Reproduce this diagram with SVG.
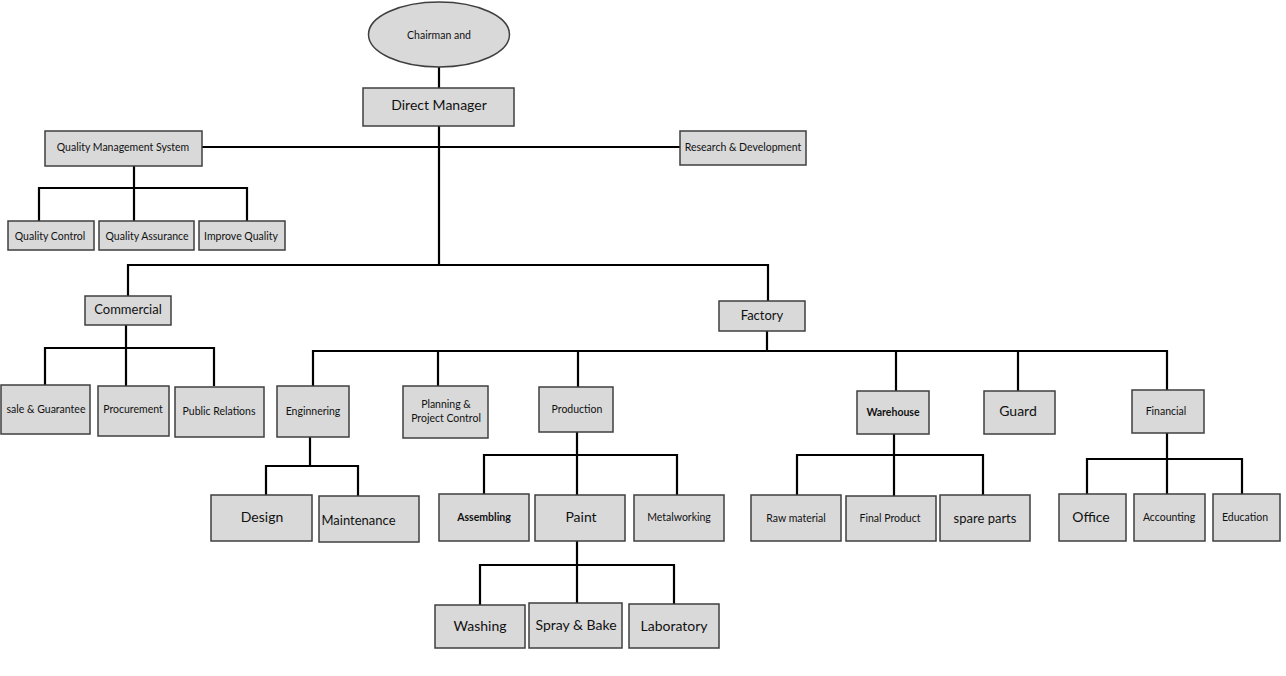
<svg xmlns="http://www.w3.org/2000/svg" width="1286" height="676" viewBox="0 0 1286 676">
<style>
.b{fill:#d9d9d9;stroke:#3f3f3f;stroke-width:1.5}
.c{fill:none;stroke:#000;stroke-width:2.2}
text{font-family:Lato,"Open Sans","Liberation Sans",sans-serif;fill:#111;text-anchor:middle}
.s{font-size:10.5px}
.m{font-size:13px}
.l{font-size:14px}
.bd{font-weight:bold}
</style>
<rect width="1286" height="676" fill="#fff"/>
<g id="connectors">
<path class="c" d="M439 67V88M439 126V265M202 147H680M134 166V188M39 221V188H247V221M134 188V221"/>
<path class="c" d="M128 296V265H768V301M126 325V348M45 385V348H214V386M126 348V386"/>
<path class="c" d="M767 331V351M313 386V351H1167V390M438 351V386M578 351V387M896 351V391M1018 351V391"/>
<path class="c" d="M310 437V466M266 495V466H358V496"/>
<path class="c" d="M577 432V455M484 494V455H677V495M577 455V495"/>
<path class="c" d="M577 541V565M480 605V565H674V604M577 565V603"/>
<path class="c" d="M894 434V455M797 495V455H983V496M894 455V496"/>
<path class="c" d="M1167 433V459M1087 494V459H1242V494M1167 459V494"/>
</g>
<g id="chairman"><ellipse class="b" cx="439" cy="34.5" rx="70.5" ry="32.5"/><text class="s" x="439" y="38.5">Chairman and</text></g>
<g id="direct-manager"><rect class="b" x="363" y="88" width="151" height="38"/><text class="l" x="439" y="110">Direct Manager</text></g>
<g id="qms"><rect class="b" x="45" y="131" width="157" height="35"/><text class="s" x="123" y="151">Quality Management System</text></g>
<g id="rd"><rect class="b" x="680" y="131" width="126" height="34"/><text class="s" x="743" y="150.5">Research &amp; Development</text></g>
<g id="quality-control"><rect class="b" x="8" y="221" width="86" height="29"/><text class="s" x="50" y="239.5">Quality Control</text></g>
<g id="quality-assurance"><rect class="b" x="99" y="221" width="95" height="29"/><text class="s" x="147" y="239.5">Quality Assurance</text></g>
<g id="improve-quality"><rect class="b" x="199" y="221" width="86" height="29"/><text class="s" x="241" y="239.5">Improve Quality</text></g>
<g id="commercial"><rect class="b" x="85" y="296" width="86" height="29"/><text class="m" x="128" y="314">Commercial</text></g>
<g id="sale-guarantee"><rect class="b" x="1" y="385" width="89" height="49"/><text class="s" x="46" y="412.5">sale &amp; Guarantee</text></g>
<g id="procurement"><rect class="b" x="98" y="386" width="71" height="50"/><text class="s" x="133" y="413">Procurement</text></g>
<g id="public-relations"><rect class="b" x="175" y="387" width="89" height="50"/><text class="s" x="219" y="414.5">Public Relations</text></g>
<g id="factory"><rect class="b" x="719" y="301" width="86" height="30"/><text class="m" x="762" y="320">Factory</text></g>
<g id="engineering"><rect class="b" x="277" y="386" width="72" height="51"/><text class="s" x="313" y="414.5">Enginnering</text></g>
<g id="design"><rect class="b" x="211" y="495" width="101" height="46"/><text class="l" x="262" y="522">Design</text></g>
<g id="maintenance"><rect class="b" x="319" y="496" width="100" height="46"/><text class="m" x="358.5" y="524.5">Maintenance</text></g>
<g id="planning"><rect class="b" x="403" y="386" width="85" height="52"/><text class="s" x="446" y="407.5">Planning &amp;</text><text class="s" x="446" y="421.5">Project Control</text></g>
<g id="production"><rect class="b" x="539" y="387" width="74" height="45"/><text class="s" x="577" y="412.5">Production</text></g>
<g id="assembling"><rect class="b" x="439" y="494" width="90" height="47"/><text class="s bd" x="484" y="520.5">Assembling</text></g>
<g id="paint"><rect class="b" x="535" y="495" width="90" height="46"/><text class="l" x="581" y="522">Paint</text></g>
<g id="metalworking"><rect class="b" x="634" y="495" width="90" height="46"/><text class="s" x="679" y="520.5">Metalworking</text></g>
<g id="washing"><rect class="b" x="435" y="605" width="90" height="43"/><text class="l" x="480" y="631">Washing</text></g>
<g id="spray-bake"><rect class="b" x="529" y="603" width="93" height="45"/><text class="l" x="576" y="630">Spray &amp; Bake</text></g>
<g id="laboratory"><rect class="b" x="629" y="604" width="90" height="44"/><text class="l" x="674" y="631">Laboratory</text></g>
<g id="warehouse"><rect class="b" x="857" y="391" width="72" height="43"/><text class="s bd" x="893" y="415.5">Warehouse</text></g>
<g id="guard"><rect class="b" x="984" y="391" width="71" height="43"/><text class="l" x="1018" y="416">Guard</text></g>
<g id="financial"><rect class="b" x="1132" y="390" width="72" height="43"/><text class="s" x="1166" y="415">Financial</text></g>
<g id="raw-material"><rect class="b" x="751" y="495" width="90" height="46"/><text class="s" x="796" y="521.5">Raw material</text></g>
<g id="final-product"><rect class="b" x="846" y="496" width="90" height="45"/><text class="s" x="890" y="521.5">Final Product</text></g>
<g id="spare-parts"><rect class="b" x="940" y="495" width="90" height="46"/><text class="m" x="985" y="523">spare parts</text></g>
<g id="office"><rect class="b" x="1059" y="494" width="67" height="47"/><text class="l" x="1091" y="522">Office</text></g>
<g id="accounting"><rect class="b" x="1134" y="494" width="71" height="47"/><text class="s" x="1169" y="521">Accounting</text></g>
<g id="education"><rect class="b" x="1213" y="494" width="67" height="47"/><text class="s" x="1245" y="520.5">Education</text></g>
</svg>
